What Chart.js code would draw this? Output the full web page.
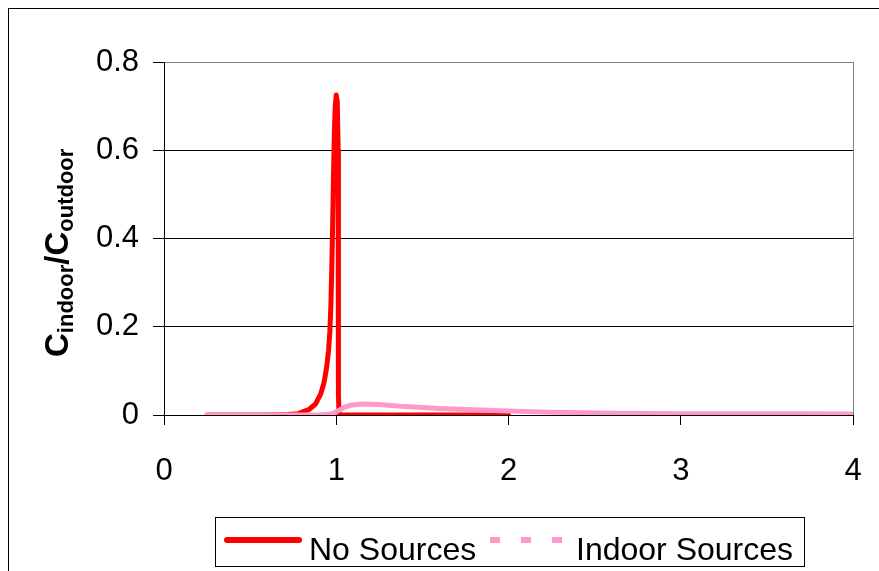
<!DOCTYPE html>
<html>
<head>
<meta charset="utf-8">
<script src="https://cdn.jsdelivr.net/npm/chart.js@4.4.1/dist/chart.umd.min.js"></script>
<style>
  html, body { margin: 0; padding: 0; background: #fff; }
  #wrap { width: 879px; height: 571px; position: relative; }
</style>
</head>
<body>
<div id="wrap"><canvas id="chart" width="879" height="571"></canvas></div>
<script>
// Series
const noSourcesX = [0.25, 0.6, 0.72, 0.78, 0.84, 0.88, 0.91, 0.93, 0.945, 0.955, 0.963, 0.969, 0.974, 0.979, 0.984, 0.989, 0.994, 1.0, 1.006, 1.011, 1.012, 1.013, 1.016, 1.1, 1.5, 2.0];
const noSourcesY = [0, 0, 0.001, 0.003, 0.012, 0.025, 0.048, 0.075, 0.11, 0.145, 0.19, 0.25, 0.33, 0.43, 0.54, 0.64, 0.7, 0.725, 0.71, 0.6, 0.3, 0.05, 0, 0, 0, 0];

const indoorX = [0.25, 0.6, 0.9, 0.97, 1.0, 1.04, 1.08, 1.15, 1.25, 1.4, 1.6, 1.8, 2.0, 2.25, 2.6, 3.0, 3.5, 4.0];
const indoorY = [0, 0, 0, 0.002, 0.007, 0.016, 0.022, 0.025, 0.024, 0.019, 0.015, 0.012, 0.009, 0.006, 0.004, 0.003, 0.003, 0.002];

const xTicks = [0, 1, 2, 3, 4];
const yTicks = [0, 0.2, 0.4, 0.6, 0.8];

const seriesNames = ['No Sources', 'Indoor Sources'];
const seriesColors = ['#ff0000', '#ff99cc'];

const toPoints = (xs, ys) => xs.map((x, i) => ({ x: x, y: ys[i] }));

const FONT = "'Liberation Sans', Arial, sans-serif";

// frame, axis title with subscripts, and the boxed legend
const decorations = {
    id: 'decorations',
    beforeDraw(chart) {
        const ctx = chart.ctx;
        ctx.save();
        ctx.fillStyle = '#fff';
        ctx.fillRect(0, 0, chart.width, chart.height);
        ctx.restore();
    },
    afterDraw(chart) {
        const ctx = chart.ctx;
        ctx.save();

        // outer frame
        ctx.strokeStyle = '#000';
        ctx.lineWidth = 1;
        ctx.strokeRect(8.5, 8.5, 900, 600);

        // y title: C_indoor / C_outdoor
        ctx.translate(68, 357);
        ctx.rotate(-Math.PI / 2);
        ctx.fillStyle = '#000';
        ctx.textBaseline = 'alphabetic';
        const big = 'bold 33px ' + FONT;
        const small = 'bold 22px ' + FONT;
        const parts = [['C', big, 0], ['indoor', small, 5], ['/C', big, 0], ['outdoor', small, 5]];
        let px = 0;
        parts.forEach(([t, f, dy]) => {
            ctx.font = f;
            ctx.fillText(t, px, dy);
            px += ctx.measureText(t).width;
        });
        ctx.setTransform(1, 0, 0, 1, 0, 0);

        // legend box
        ctx.strokeStyle = '#000';
        ctx.lineWidth = 1;
        ctx.strokeRect(215.5, 517.5, 589, 49);

        ctx.strokeStyle = seriesColors[0];
        ctx.lineWidth = 6;
        ctx.lineCap = 'round';
        ctx.beginPath();
        ctx.moveTo(227, 540);
        ctx.lineTo(299, 540);
        ctx.stroke();

        ctx.fillStyle = seriesColors[1];
        [490, 521, 552].forEach(x => ctx.fillRect(x, 537, 10, 6));

        ctx.fillStyle = '#000';
        ctx.font = '32px ' + FONT;
        ctx.fillText(seriesNames[0], 309, 560);
        ctx.fillText(seriesNames[1], 576, 560);

        ctx.restore();
    }
};

const chart = new Chart(document.getElementById('chart'), {
    type: 'line',
    data: {
        datasets: [
            {
                label: seriesNames[0],
                data: toPoints(noSourcesX, noSourcesY),
                borderColor: seriesColors[0],
                borderWidth: 5,
                pointRadius: 0,
                tension: 0,
                borderJoinStyle: 'round',
                borderCapStyle: 'round',
                order: 2
            },
            {
                label: seriesNames[1],
                data: toPoints(indoorX, indoorY),
                borderColor: seriesColors[1],
                borderWidth: 5,
                pointRadius: 0,
                tension: 0,
                borderJoinStyle: 'round',
                borderCapStyle: 'round',
                order: 1
            }
        ]
    },
    options: {
        responsive: false,
        animation: false,
        devicePixelRatio: 1,
        layout: { padding: { left: 0, right: 26, top: 62, bottom: 0 } },
        plugins: {
            legend: { display: false },
            tooltip: { enabled: false }
        },
        scales: {
            x: {
                type: 'linear',
                min: 0,
                max: 4,
                afterFit: s => {
                    s.height = 156;
                    s.paddingLeft = 0;
                    s.paddingRight = 0;
                },
                afterBuildTicks: s => { s.ticks = xTicks.map(v => ({ value: v })); },
                border: { color: '#000', width: 1 },
                grid: {
                    color: c => (c.tick && c.tick.value === 4) ? '#808080' : 'rgba(0,0,0,0)',
                    tickColor: '#000',
                    tickLength: 10,
                    lineWidth: 1
                },
                ticks: {
                    color: '#000',
                    font: { family: FONT, size: 31 },
                    padding: 28,
                    maxRotation: 0,
                    callback: v => String(v)
                }
            },
            y: {
                min: 0,
                max: 0.8,
                afterFit: s => { s.width = 164; },
                afterBuildTicks: s => { s.ticks = yTicks.map(v => ({ value: v })); },
                border: { color: '#000', width: 1 },
                grid: {
                    color: c => (c.tick && Math.abs(c.tick.value - 0.8) < 1e-6) ? '#808080' : '#000',
                    tickColor: '#000',
                    tickLength: 11,
                    lineWidth: 1
                },
                ticks: {
                    color: '#000',
                    font: { family: FONT, size: 31 },
                    padding: 14,
                    callback: v => v === 0 ? '0' : v.toFixed(1)
                }
            }
        }
    },
    plugins: [decorations]
});
</script>
</body>
</html>
